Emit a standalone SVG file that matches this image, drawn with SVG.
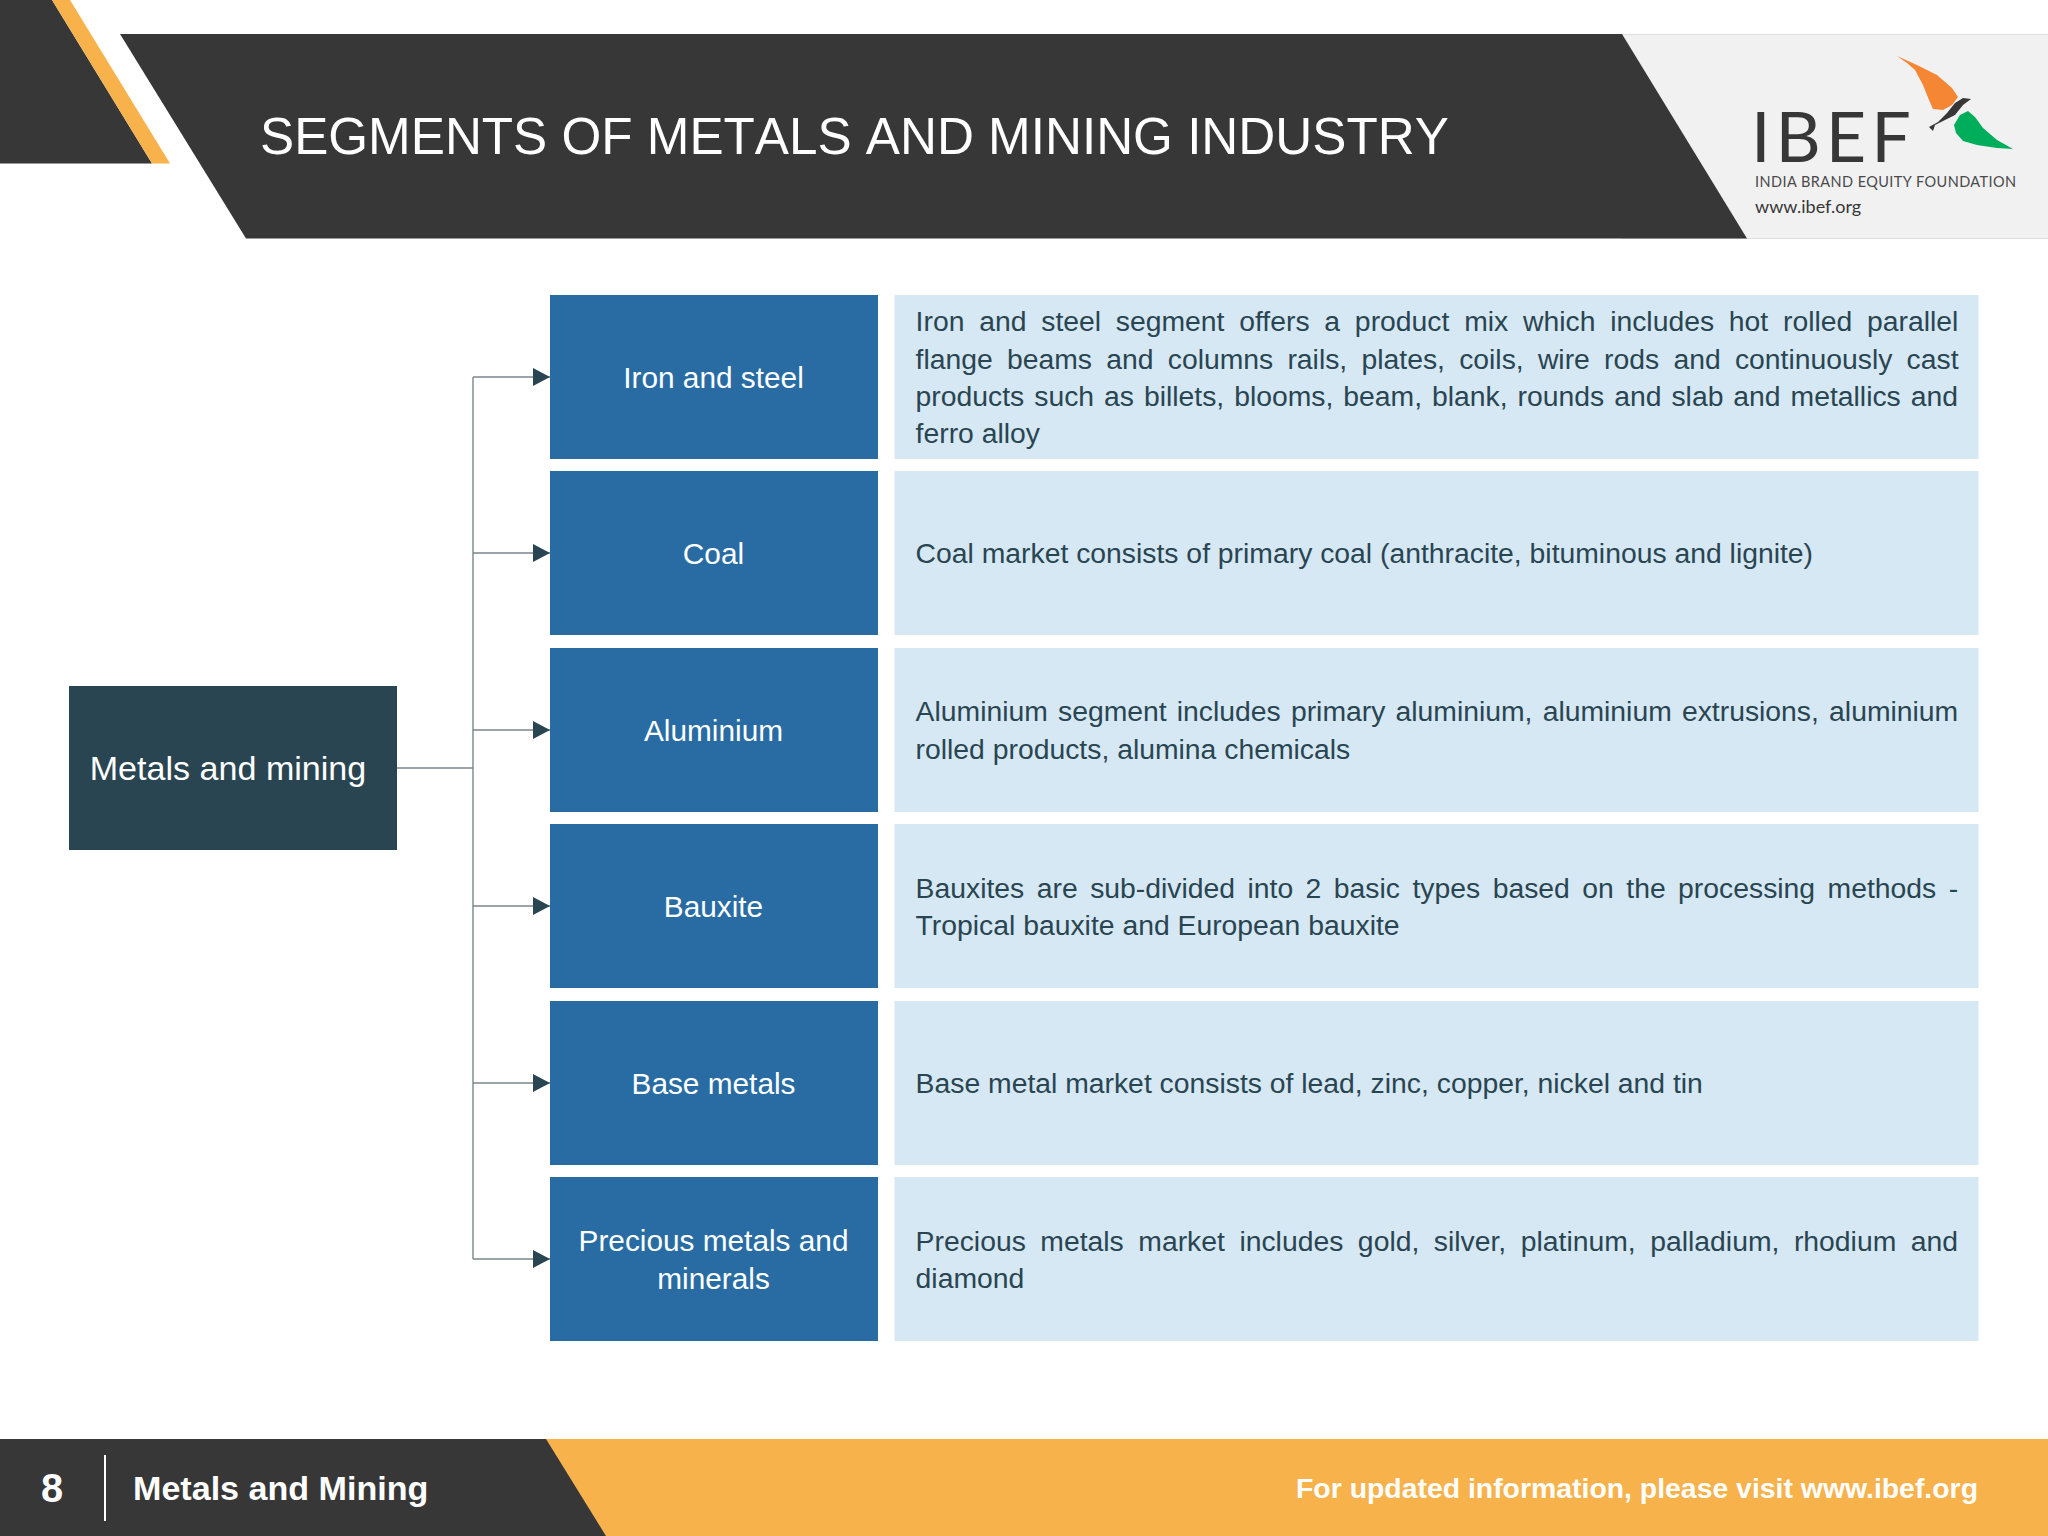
<svg xmlns="http://www.w3.org/2000/svg" width="2048" height="1536" viewBox="0 0 2048 1536">
<style>
text{font-family:"Liberation Sans",Arial,sans-serif}
.seg{fill:#286ca3}
.desc{fill:#d6e8f3}
.lab{fill:#fff;font-size:29.800px;text-anchor:middle}
.d{fill:#2a4552;font-size:28.340px}
.conn{fill:none;stroke:#7b868b;stroke-width:1.4}
.hd{fill:#373737}
.lg{font-family:Lato,"Open Sans",sans-serif}
</style>
<defs>
<marker id="arr" markerUnits="userSpaceOnUse" markerWidth="17" markerHeight="18" refX="17" refY="9" orient="auto"><path d="M0 0L17 9L0 18Z" fill="#2a4552"/></marker>
</defs>
<rect width="2048" height="1536" fill="#fff"/>
<g id="header">
<path class="hd" d="M0 0H52L152 163.500H0Z"/>
<path fill="#f7b24b" d="M52 0H70L170 163.500H152Z"/>
<rect x="1600" y="34" width="448" height="204" fill="#f1f1f2"/>
<path d="M1622 34.500H2048M1622 238.500H2048" stroke="#dedede" stroke-width="1" fill="none"/>
<path class="hd" d="M120 34H1622L1747 238.500H246Z"/>
<text x="260" y="153.500" fill="#fff" font-size="51.200" style="font-kerning:none">SEGMENTS OF METALS AND MINING INDUSTRY</text>
</g>
<g id="logo">
<path fill="#f58634" d="M1897 56L1917 65L1937 75L1952 88L1958 97L1952 105L1943 110L1933 109L1929 100L1923 85L1915 70L1907 63Z"/>
<path fill="#00ad5b" d="M1968 111L1975 117L1983 128L1997 140L2013 149L1997 148L1977 145L1963 141L1956 133L1954 125L1960 115Z"/>
<path fill="#373737" d="M1929 127L1933 131L1935 125L1943 121L1955 115L1963 105L1971 99L1963 98L1955 103L1947 113L1938 122Z"/>
<text class="lg" x="1751" y="162" fill="#373737" font-size="70" letter-spacing="5">IBEF</text>
<text class="lg" x="1755" y="187" fill="#4a4a4a" font-size="14.500" letter-spacing="0.440">INDIA BRAND EQUITY FOUNDATION</text>
<text class="lg" x="1755" y="212.500" fill="#373737" font-size="18">www.ibef.org</text>
</g>
<g id="connectors">
<path class="conn" d="M397 768H473M473 377V1259"/>
<path class="conn" marker-end="url(#arr)" d="M473 377H550"/>
<path class="conn" marker-end="url(#arr)" d="M473 553H550"/>
<path class="conn" marker-end="url(#arr)" d="M473 730H550"/>
<path class="conn" marker-end="url(#arr)" d="M473 906H550"/>
<path class="conn" marker-end="url(#arr)" d="M473 1083H550"/>
<path class="conn" marker-end="url(#arr)" d="M473 1259H550"/>
</g>
<g id="root">
<rect x="69" y="686" width="328" height="164" fill="#2a4552"/>
<text x="228" y="780" fill="#fff" font-size="34.100" text-anchor="middle">Metals and mining</text>
</g>
<g id="seg-iron"><rect class="seg" x="550" y="295" width="328" height="164"/><text class="lab" x="713.500" y="388">Iron and steel</text></g>
<g id="desc-iron"><rect class="desc" x="894.500" y="295" width="1084" height="164"/>
<text class="d" x="915.600" y="331" word-spacing="6.900">Iron and steel segment offers a product mix which includes hot rolled parallel</text>
<text class="d" x="915.600" y="368.500" word-spacing="6.350">flange beams and columns rails, plates, coils, wire rods and continuously cast</text>
<text class="d" x="915.600" y="406" word-spacing="2.100">products such as billets, blooms, beam, blank, rounds and slab and metallics and</text>
<text class="d" x="915.600" y="443">ferro alloy</text></g>
<g id="seg-coal"><rect class="seg" x="550" y="471" width="328" height="164"/><text class="lab" x="713.500" y="564">Coal</text></g>
<g id="desc-coal"><rect class="desc" x="894.500" y="471" width="1084" height="164"/>
<text class="d" x="915.600" y="563">Coal market consists of primary coal (anthracite, bituminous and lignite)</text></g>
<g id="seg-alu"><rect class="seg" x="550" y="648" width="328" height="164"/><text class="lab" x="713.500" y="741">Aluminium</text></g>
<g id="desc-alu"><rect class="desc" x="894.500" y="648" width="1084" height="164"/>
<text class="d" x="915.600" y="721" word-spacing="2.300">Aluminium segment includes primary aluminium, aluminium extrusions, aluminium</text>
<text class="d" x="915.600" y="758.500">rolled products, alumina chemicals</text></g>
<g id="seg-bau"><rect class="seg" x="550" y="824" width="328" height="164"/><text class="lab" x="713.500" y="917">Bauxite</text></g>
<g id="desc-bau"><rect class="desc" x="894.500" y="824" width="1084" height="164"/>
<text class="d" x="915.600" y="897.500" word-spacing="4.600">Bauxites are sub-divided into 2 basic types based on the processing methods -</text>
<text class="d" x="915.600" y="935">Tropical bauxite and European bauxite</text></g>
<g id="seg-base"><rect class="seg" x="550" y="1001" width="328" height="164"/><text class="lab" x="713.500" y="1094">Base metals</text></g>
<g id="desc-base"><rect class="desc" x="894.500" y="1001" width="1084" height="164"/>
<text class="d" x="915.600" y="1093">Base metal market consists of lead, zinc, copper, nickel and tin</text></g>
<g id="seg-prec"><rect class="seg" x="550" y="1177" width="328" height="164"/><text class="lab" x="713.500" y="1251">Precious metals and</text><text class="lab" x="713.500" y="1289">minerals</text></g>
<g id="desc-prec"><rect class="desc" x="894.500" y="1177" width="1084" height="164"/>
<text class="d" x="915.600" y="1250.500" word-spacing="6.660">Precious metals market includes gold, silver, platinum, palladium, rhodium and</text>
<text class="d" x="915.600" y="1288">diamond</text></g>
<g id="footer">
<rect y="1439" width="2048" height="97" fill="#f7b24b"/>
<path d="M0 1439H546L606 1536H0Z" fill="#373737"/>
<text x="52" y="1502" fill="#fff" font-size="39.800" font-weight="700" text-anchor="middle">8</text>
<rect x="104" y="1455" width="2" height="66" fill="#fff"/>
<text x="133" y="1500" fill="#fff" font-size="34.100" font-weight="700">Metals and Mining</text>
<text x="1978" y="1498" fill="#fff" font-size="28.400" font-weight="700" text-anchor="end">For updated information, please visit www.ibef.org</text>
</g>
</svg>
